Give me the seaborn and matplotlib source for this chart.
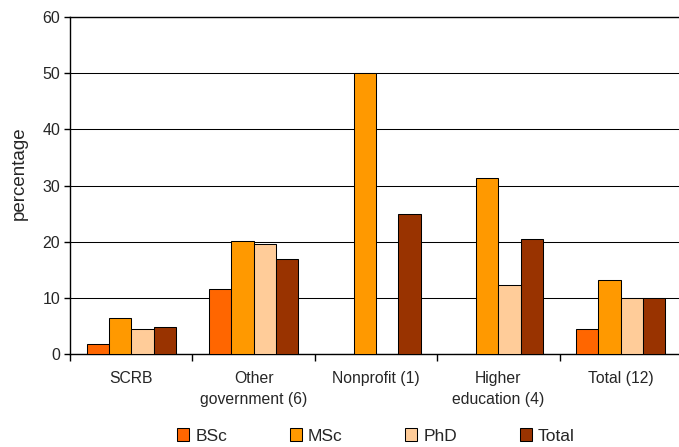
import numpy as np
import pandas as pd
import matplotlib
matplotlib.use("Agg")
import matplotlib.pyplot as plt
import seaborn as sns
from matplotlib.patches import Patch

# Data: share (%) by sector and degree level
categories = ["SCRB", "Other\ngovernment (6)", "Nonprofit (1)", "Higher\neducation (4)", "Total (12)"]
degrees = ["BSc", "MSc", "PhD", "Total"]
bsc = [1.8, 11.6, 0.0, 0.0, 4.5]
msc = [6.4, 20.2, 50.0, 31.25, 13.2]
phd = [4.5, 19.6, 0.0, 12.4, 10.0]
total = [4.8, 17.0, 25.0, 20.5, 10.0]
colors = ["#FF6600", "#FF9900", "#FFCC99", "#993300"]

rows = []
for deg, vals in zip(degrees, [bsc, msc, phd, total]):
    for cat, v in zip(categories, vals):
        rows.append({"category": cat, "degree": deg, "value": v})
df = pd.DataFrame(rows)

sns.set_theme(style="white")
plt.rcParams["font.family"] = ["Liberation Sans", "DejaVu Sans"]

fig = plt.figure(figsize=(6.79, 4.47), dpi=100)
ax = fig.add_axes([70 / 679, 92.7 / 447, 612 / 679, 337.6 / 447])

sns.barplot(data=df, x="category", y="value", hue="degree",
            order=categories, hue_order=degrees, palette=colors,
            saturation=1, width=0.73, edgecolor="black", linewidth=0.75,
            legend=False, ax=ax, zorder=3)

ax.set_ylim(0, 60)
ax.set_xlim(-0.5, len(categories) - 0.5)
ax.set_yticks(np.arange(0, 61, 10))
ax.yaxis.grid(True, color="black", linewidth=0.75, zorder=0)
ax.set_axisbelow(True)

for side in ["left", "bottom", "top"]:
    ax.spines[side].set_visible(True)
    ax.spines[side].set_color("black")
    ax.spines[side].set_linewidth(1.0)
ax.spines["right"].set_visible(False)

ax.set_xlabel("")
ax.set_ylabel("percentage", fontsize=13.5)
ax.yaxis.set_label_coords(-0.069, 0.5355)
ax.tick_params(axis="y", direction="out", length=4, width=1, color="black",
               labelsize=11.5, left=True, pad=3)
ax.tick_params(axis="x", which="major", length=0, labelsize=11.3, pad=12)
for lbl in ax.get_xticklabels():
    lbl.set_linespacing(1.5)
ax.set_xticks(np.arange(-0.5, len(categories) - 0.4, 1.0), minor=True)
ax.tick_params(axis="x", which="minor", direction="out", length=5, width=1,
               color="black", bottom=True)

handles = [Patch(facecolor=c, edgecolor="black", linewidth=0.75) for c in colors]
fig.legend(handles, degrees, loc="center", bbox_to_anchor=(376 / 679, 1 - 436 / 447),
           ncol=4, frameon=False, fontsize=12.5, handlelength=0.7, handleheight=0.7,
           handletextpad=0.35, columnspacing=3.6, borderpad=0.1)

fig.savefig("out.png", dpi=100)
